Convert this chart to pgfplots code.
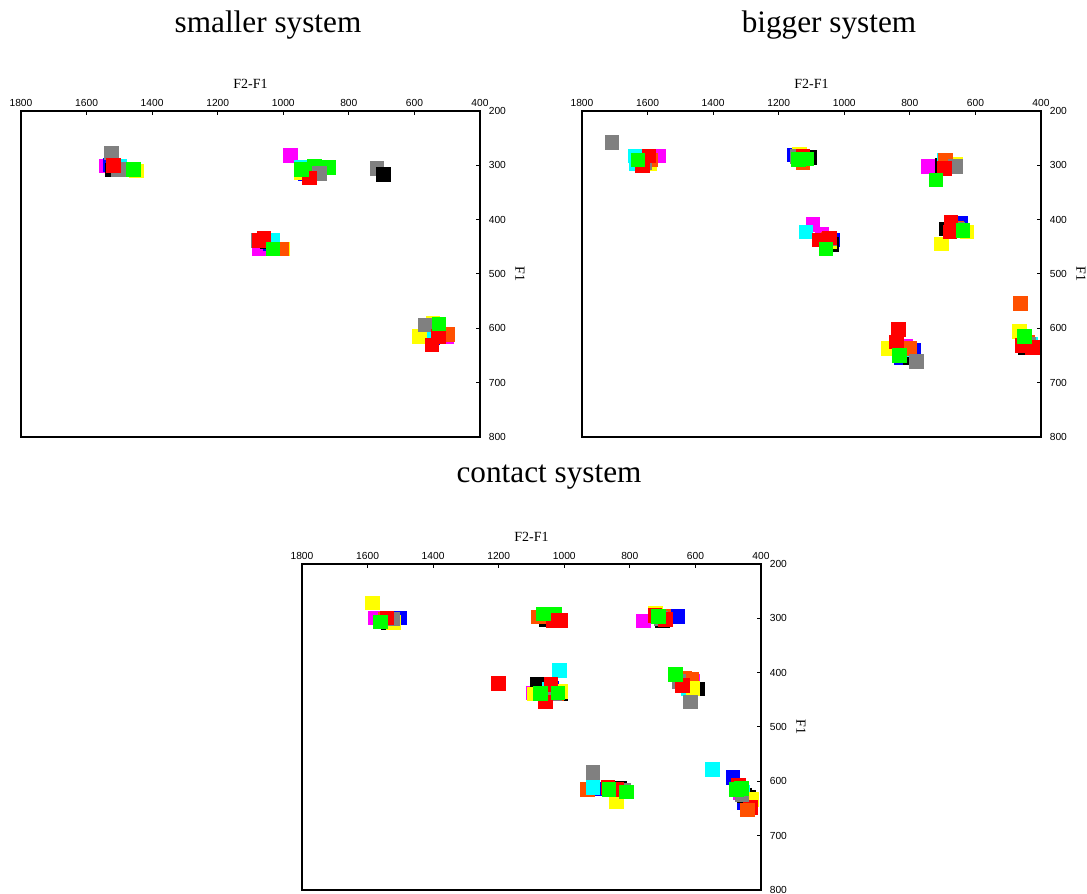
\documentclass[border=0pt]{standalone}
\usepackage{fontspec}
\usepackage{pgfplots}
\pgfplotsset{compat=1.18}
\setmainfont{Liberation Serif}
\newfontfamily\tickfont{Liberation Sans}
\definecolor{cmag}{RGB}{255,0,255}
\definecolor{cblu}{RGB}{0,0,255}
\definecolor{cblk}{RGB}{0,0,0}
\definecolor{ccya}{RGB}{0,255,255}
\definecolor{cyel}{RGB}{255,255,0}
\definecolor{cora}{RGB}{255,80,0}
\definecolor{cgra}{RGB}{128,128,128}
\definecolor{cred}{RGB}{255,0,0}
\definecolor{cgrn}{RGB}{0,255,0}
\pgfplotsset{
  vowel/.style={
    scale only axis, width=183.6pt, height=130.4pt,
    xmin=400, xmax=1800, ymin=200, ymax=800,
    x dir=reverse, y dir=reverse,
    xtick={400,600,...,1800}, ytick={200,300,...,800},
    xticklabel pos=right, yticklabel pos=right,
    xtick pos=right, ytick pos=right,
    tick align=inside, major tick length=1.6pt,
    every tick/.style={black, line width=0.4pt},
    axis line style={line width=0.6pt},
    xlabel={F2-F1}, ylabel={F1},
    ticklabel style={font=\tickfont\fontsize{4.1}{5}\selectfont},
    label style={font=\fontsize{5.6}{6.5}\selectfont},
    xticklabel style={yshift=-1.6pt},
    xlabel style={yshift=-2.8pt},
    ylabel style={at={(axis description cs:1.087,0.5)}, anchor=center, rotate=180},
    scaled ticks=false,
    /pgf/number format/1000 sep={},
    /pgf/number format/assume math mode=true,
    only marks, mark=square*, mark size=2.7pt,
    clip=false,
  },
  sq/.style={mark=square*, only marks, mark size=2.7pt, mark options={draw=none, fill=#1}, color=#1},
}
\begin{document}
\begin{tikzpicture}
\path[use as bounding box] (0,0) rectangle (434.8pt,-357.6pt);
\node[font=\fontsize{12.5}{14}\selectfont] at (107.2pt,-10pt) {smaller system};
\node[font=\fontsize{12.5}{14}\selectfont] at (331.6pt,-10pt) {bigger system};
\node[font=\fontsize{12.5}{14}\selectfont] at (219.6pt,-190.8pt) {contact system};
% ---------------- smaller system
\begin{axis}[vowel, at={(8.4pt,-174.8pt)}, anchor=south west]
\addplot[sq=cmag] coordinates {(1540,301) (978,282) (1073,454) (501,615)};
\addplot[sq=cblu] coordinates {(1529,299) (933,316) (1040,445) (544,618)};
\addplot[sq=cblk] coordinates {(1521,309) (1050,440) (538,609)};
\addplot[sq=ccya] coordinates {(1500,301) (945,304) (1031,438) (540,605)};
\addplot[sq=cyel] coordinates {(1448,310) (945,314) (1002,454) (585,615) (543,590)};
\addplot[sq=cora] coordinates {(1461,308) (934,308) (1004,454) (498,611)};
\addplot[sq=cgrn] coordinates {(905,302) (860,304)};
\addplot[sq=cgra] coordinates {(1524,277) (1502,308) (889,315) (714,306) (1075,438) (566,594)};
\addplot[sq=cblk] coordinates {(695,317)};
\addplot[sq=cred] coordinates {(1518,300) (920,323) (1059,434) (1073,438) (527,615) (546,631)};
\addplot[sq=cgrn] coordinates {(1457,308) (945,308) (1031,454) (525,592)};
\end{axis}
% ---------------- bigger system
\begin{axis}[vowel, at={(232.8pt,-174.8pt)}, anchor=south west]
\addplot[sq=cmag] coordinates {(1629,292) (1565,283) (1068,426) (1096,409) (743,302) (666,410) (814,633) (440,628)};
\addplot[sq=cblu] coordinates {(1612,295) (1154,281) (1034,437) (669,303) (644,407) (787,640) (825,654) (440,632)};
\addplot[sq=cblk] coordinates {(1608,298) (1104,286) (1038,446) (700,300) (688,417) (842,638) (800,655) (447,636)};
\addplot[sq=ccya] coordinates {(1638,283) (1633,297) (1130,285) (1117,423) (694,290) (660,415) (805,640) (431,630)};
\addplot[sq=cyel] coordinates {(1592,298) (1137,280) (1045,440) (661,298) (625,423) (703,445) (865,637) (466,606)};
\addplot[sq=cora] coordinates {(1590,290) (1126,295) (1050,436) (691,290) (658,416) (799,637) (463,554) (440,625)};
\addplot[sq=cgra] coordinates {(1708,258) (1610,295) (1142,284) (1045,436) (660,302) (655,418) (780,661) (436,630)};
\addplot[sq=cred] coordinates {(1595,283) (1616,300) (1126,284) (1075,437) (1045,434) (694,306) (675,404) (678,423) (834,602) (840,625) (457,632) (426,635)};
\addplot[sq=cgrn] coordinates {(1629,290) (1113,288) (1139,289) (1056,454) (720,327) (638,420) (831,650) (450,615)};
\end{axis}
% ---------------- contact system
\begin{axis}[vowel, at={(120.8pt,-356pt)}, anchor=south west]
\addplot[sq=cmag] coordinates {(1576,299) (1094,437) (758,305) (608,415) (831,620) (463,621)};
\addplot[sq=cblu] coordinates {(1503,299) (1045,300) (1039,429) (655,297) (620,420) (890,614) (486,593) (450,639)};
\addplot[sq=cblk] coordinates {(1536,309) (1056,303) (1082,422) (1012,438) (700,305) (594,430) (640,418) (832,613) (450,626) (438,630)};
\addplot[sq=cora] coordinates {(1545,302) (1078,298) (1022,438) (697,296) (634,411) (610,412) (929,615)};
\addplot[sq=ccya] coordinates {(1540,305) (1030,292) (1014,396) (1045,430) (623,430) (912,611) (548,578) (455,620)};
\addplot[sq=cyel] coordinates {(1585,272) (1521,308) (1091,439) (1012,435) (721,290) (608,429) (841,638) (429,633)};
\addplot[sq=cgrn] coordinates {(1030,292)};
\addplot[sq=cred] coordinates {(432,648)};
\addplot[sq=cora] coordinates {(441,653)};
\addplot[sq=cgra] coordinates {(1524,301) (1030,438) (705,300) (650,416) (615,454) (912,584) (820,616) (458,625)};
\addplot[sq=cred] coordinates {(1540,299) (1035,304) (1011,304) (1200,420) (1040,422) (1057,454) (724,295) (691,302) (639,424) (867,611) (841,615) (469,608)};
\addplot[sq=cgrn] coordinates {(1561,307) (1063,292) (1072,438) (1019,437) (713,297) (661,403) (864,615) (810,620) (474,615) (459,613)};
\end{axis}
\end{tikzpicture}
\end{document}
